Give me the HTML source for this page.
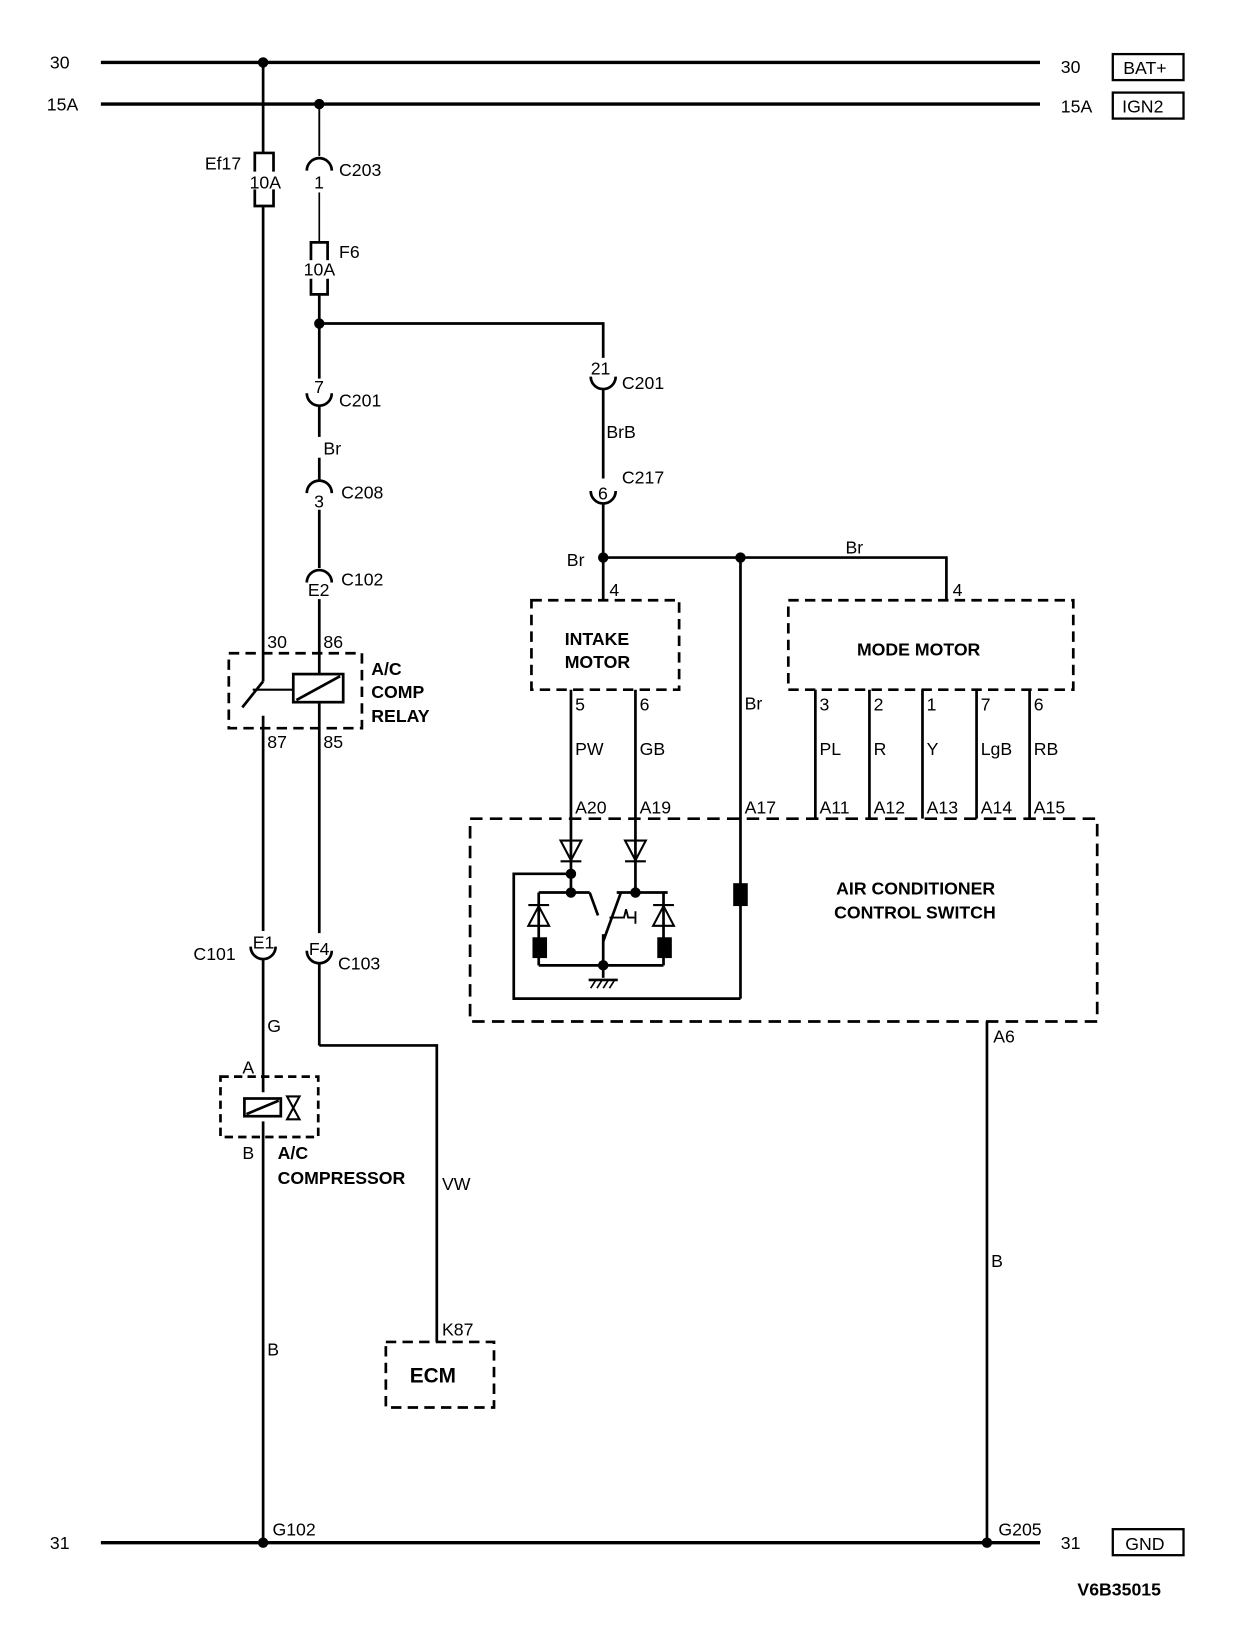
<!DOCTYPE html>
<html><head><style>
html,body{margin:0;padding:0;background:#fff;}
svg{display:block;}
text{font-family:"Liberation Sans",sans-serif;font-size:17px;fill:#000;}
.b{font-weight:bold;}
</style></head><body>
<svg width="1248" height="1628" viewBox="0 0 1200 1565" preserveAspectRatio="none" xmlns="http://www.w3.org/2000/svg">
<g stroke="#000" fill="none" stroke-width="2.6">
<line x1="97" y1="60" x2="1000" y2="60" stroke-width="3.2"/>
<line x1="97" y1="100" x2="1000" y2="100" stroke-width="3.2"/>
<line x1="97" y1="1483" x2="1000" y2="1483" stroke-width="3.2"/>
<rect x="1070" y="52" width="68" height="25" stroke-width="2.2"/>
<rect x="1070" y="89" width="68" height="25" stroke-width="2.2"/>
<rect x="1070" y="1470" width="68" height="25" stroke-width="2.2"/>
<line x1="253" y1="60" x2="253" y2="147"/>
<path d="M245 165 V147 H263 V165 M245 182 V198 H263 V182"/>
<line x1="253" y1="198" x2="253" y2="655"/>
<line x1="253" y1="655" x2="233" y2="680"/>
<line x1="253" y1="688" x2="253" y2="895"/>
<line x1="253" y1="922" x2="253" y2="1050"/>
<line x1="253" y1="1078" x2="253" y2="1483"/>
<line x1="243" y1="663" x2="282" y2="663" stroke-width="2"/>
<rect x="282" y="648" width="48" height="27"/>
<line x1="285" y1="673" x2="327" y2="650"/>
<rect x="220" y="628" width="128" height="72" stroke-dasharray="10,6"/>
<line x1="307" y1="100" x2="307" y2="150" stroke-width="1.8"/>
<path d="M295 164 A12 12 0 0 1 319 164"/>
<line x1="307" y1="185" x2="307" y2="232" stroke-width="1.6"/>
<path d="M299 250 V233 H315 V250 M299 268 V283 H315 V268"/>
<line x1="307" y1="283" x2="307" y2="364"/>
<path d="M295 378 A12 12 0 0 0 319 378"/>
<line x1="307" y1="390" x2="307" y2="420"/>
<line x1="307" y1="440" x2="307" y2="461"/>
<path d="M295 474 A12 12 0 0 1 319 474"/>
<line x1="307" y1="490" x2="307" y2="546"/>
<path d="M295 560 A12 12 0 0 1 319 560"/>
<line x1="307" y1="576" x2="307" y2="648"/>
<line x1="307" y1="675" x2="307" y2="897"/>
<path d="M295 914 A12 12 0 0 0 319 914"/>
<line x1="307" y1="926" x2="307" y2="1005"/>
<polyline points="307,1005 420,1005 420,1290"/>
<rect x="371" y="1290" width="104" height="63" stroke-dasharray="10,6"/>
<path d="M241 910 A12 12 0 0 0 265 910"/>
<rect x="212" y="1035" width="94" height="58" stroke-dasharray="8,5"/>
<rect x="235" y="1056" width="35" height="17"/>
<line x1="237" y1="1071" x2="268" y2="1058"/>
<path d="M276 1054 H288 L276 1076 H288 Z" stroke-width="2"/>
<polyline points="307,311 580,311 580,344"/>
<path d="M568 362 A12 12 0 0 0 592 362"/>
<line x1="580" y1="374" x2="580" y2="460"/>
<path d="M568 472 A12 12 0 0 0 592 472"/>
<line x1="580" y1="484" x2="580" y2="577"/>
<polyline points="580,536 910,536 910,577"/>
<line x1="712" y1="536" x2="712" y2="960"/>
<rect x="511" y="577" width="142" height="86" stroke-dasharray="10,6"/>
<rect x="758" y="577" width="274" height="86" stroke-dasharray="10,6"/>
<line x1="549" y1="663" x2="549" y2="858"/>
<line x1="611" y1="663" x2="611" y2="858"/>
<line x1="784" y1="663" x2="784" y2="787"/>
<line x1="836" y1="663" x2="836" y2="787"/>
<line x1="887" y1="663" x2="887" y2="787"/>
<line x1="939" y1="663" x2="939" y2="787"/>
<line x1="990" y1="663" x2="990" y2="787"/>
<rect x="452" y="787" width="603" height="195" stroke-dasharray="12,7"/>
<line x1="949" y1="982" x2="949" y2="1483"/>
<path d="M539 808 H559 L549 827 Z M539 828 H559" stroke-width="2"/>
<path d="M601 808 H621 L611 827 Z M601 828 H621" stroke-width="2"/>
<polyline points="549,840 494,840 494,960 712,960"/>
<line x1="518" y1="858" x2="567" y2="858"/>
<line x1="593" y1="858" x2="642" y2="858"/>
<line x1="518" y1="858" x2="518" y2="928"/>
<line x1="638" y1="858" x2="638" y2="928"/>
<path d="M508 890 H528 L518 871 Z M508 870 H528" stroke-width="2"/>
<path d="M628 890 H648 L638 871 Z M628 870 H648" stroke-width="2"/>
<line x1="518" y1="928" x2="638" y2="928"/>
<line x1="567" y1="858" x2="575" y2="880"/>
<line x1="597" y1="858" x2="580" y2="905"/>
<line x1="580" y1="898" x2="580" y2="940"/>
<path d="M586 882 H600 L602 874 L604 882 H610 M611 876 V888" stroke-width="1.8"/>
<line x1="566" y1="942" x2="594" y2="942"/>
<path d="M568 950 L573 942 M574 950 L579 942 M580 950 L585 942 M586 950 L591 942" stroke-width="1.6"/>
</g>
<g fill="#000">
<circle cx="253" cy="60" r="5"/><circle cx="307" cy="100" r="5"/><circle cx="307" cy="311" r="5"/>
<circle cx="580" cy="536" r="5"/><circle cx="712" cy="536" r="5"/>
<circle cx="253" cy="1483" r="5"/><circle cx="949" cy="1483" r="5"/>
<circle cx="549" cy="840" r="5"/><circle cx="549" cy="858" r="5"/><circle cx="611" cy="858" r="5"/><circle cx="580" cy="928" r="5"/>
<rect x="512" y="901" width="14" height="20"/><rect x="632" y="901" width="14" height="20"/>
<rect x="705" y="849" width="14" height="22"/>
</g>
<g>
<text x="48" y="66">30</text><text x="45" y="106">15A</text><text x="48" y="1489">31</text>
<text x="1020" y="70">30</text><text x="1020" y="108">15A</text><text x="1020" y="1489">31</text>
<text x="1080" y="71">BAT+</text><text x="1079" y="108">IGN2</text><text x="1082" y="1490">GND</text>
<text x="197" y="163">Ef17</text><text x="240" y="181">10A</text>
<text x="326" y="169">C203</text><text x="302" y="181">1</text>
<text x="326" y="248">F6</text><text x="292" y="265">10A</text>
<text x="302" y="378">7</text><text x="326" y="391">C201</text>
<text x="311" y="437">Br</text>
<text x="302" y="488">3</text><text x="328" y="479">C208</text>
<text x="296" y="573">E2</text><text x="328" y="563">C102</text>
<text x="257" y="623">30</text><text x="311" y="623">86</text>
<text x="257" y="719">87</text><text x="311" y="719">85</text>
<text class="b" x="357" y="649">A/C</text><text class="b" x="357" y="671">COMP</text><text class="b" x="357" y="694">RELAY</text>
<text x="243" y="912">E1</text><text x="186" y="923">C101</text>
<text x="297" y="918">F4</text><text x="325" y="932">C103</text>
<text x="257" y="992">G</text><text x="233" y="1032">A</text><text x="233" y="1114">B</text>
<text class="b" x="267" y="1114">A/C</text><text class="b" x="267" y="1138">COMPRESSOR</text>
<text x="425" y="1144">VW</text><text x="425" y="1284">K87</text>
<text class="b" x="394" y="1329" style="font-size:20px">ECM</text>
<text x="257" y="1303">B</text><text x="262" y="1476">G102</text>
<text x="568" y="360">21</text><text x="598" y="374">C201</text>
<text x="583" y="421">BrB</text>
<text x="575" y="480">6</text><text x="598" y="465">C217</text>
<text x="545" y="544">Br</text><text x="813" y="532">Br</text>
<text x="586" y="573">4</text><text x="916" y="573">4</text>
<text class="b" x="543" y="620">INTAKE</text><text class="b" x="543" y="642">MOTOR</text>
<text class="b" x="824" y="630">MODE MOTOR</text>
<text x="553" y="683">5</text><text x="615" y="683">6</text><text x="716" y="682">Br</text>
<text x="788" y="683">3</text><text x="840" y="683">2</text><text x="891" y="683">1</text><text x="943" y="683">7</text><text x="994" y="683">6</text>
<text x="553" y="726">PW</text><text x="615" y="726">GB</text>
<text x="788" y="726">PL</text><text x="840" y="726">R</text><text x="891" y="726">Y</text><text x="943" y="726">LgB</text><text x="994" y="726">RB</text>
<text x="553" y="782">A20</text><text x="615" y="782">A19</text><text x="716" y="782">A17</text>
<text x="788" y="782">A11</text><text x="840" y="782">A12</text><text x="891" y="782">A13</text><text x="943" y="782">A14</text><text x="994" y="782">A15</text>
<text class="b" x="804" y="860">AIR CONDITIONER</text><text class="b" x="802" y="883">CONTROL SWITCH</text>
<text x="955" y="1002">A6</text><text x="953" y="1218">B</text><text x="960" y="1476">G205</text>
<text class="b" x="1036" y="1534">V6B35015</text>
</g>
</svg>
</body></html>
